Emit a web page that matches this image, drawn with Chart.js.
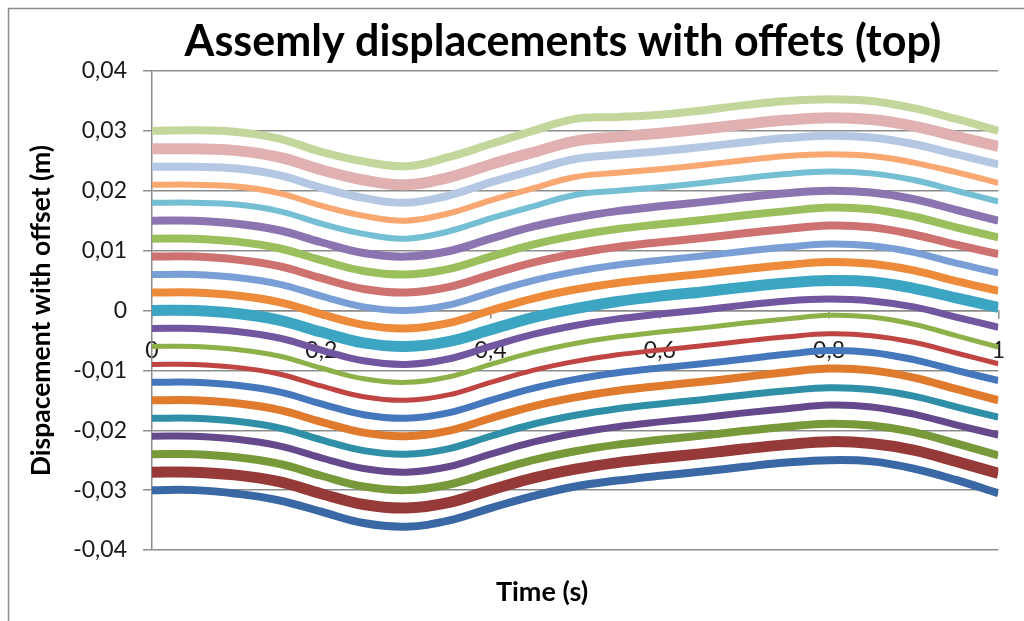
<!DOCTYPE html>
<html>
<head>
<meta charset="utf-8">
<script src="https://cdn.jsdelivr.net/npm/chart.js@4.4.1/dist/chart.umd.min.js"></script>
<style>
  html, body { margin: 0; padding: 0; background: #fff; }
  #wrap { position: relative; width: 1024px; height: 621px; }
</style>
</head>
<body>
<div id="wrap"><canvas id="chart"></canvas></div>
<script>
// time samples (s)
const times = [0, 0.05, 0.1, 0.15, 0.2, 0.25, 0.3, 0.35, 0.4, 0.45, 0.5,
               0.55, 0.6, 0.65, 0.7, 0.75, 0.8, 0.85, 0.9, 0.95, 1];

// displacement + offset (m), one array per node, bottom to top
const s_m30 = [-0.0300, -0.0300, -0.0306, -0.0317, -0.0336, -0.0355, -0.0361, -0.0351, -0.0330, -0.0310, -0.0294, -0.0284, -0.0276, -0.0269, -0.0261, -0.0254, -0.0250, -0.0252, -0.0264, -0.0283, -0.0305];
const s_m27 = [-0.0270, -0.0270, -0.0275, -0.0286, -0.0306, -0.0324, -0.0330, -0.0321, -0.0300, -0.0280, -0.0265, -0.0254, -0.0246, -0.0239, -0.0231, -0.0224, -0.0219, -0.0222, -0.0233, -0.0252, -0.0272];
const s_m24 = [-0.0240, -0.0240, -0.0245, -0.0256, -0.0276, -0.0294, -0.0300, -0.0291, -0.0270, -0.0250, -0.0235, -0.0224, -0.0216, -0.0209, -0.0201, -0.0194, -0.0189, -0.0192, -0.0203, -0.0222, -0.0242];
const s_m21 = [-0.0210, -0.0210, -0.0215, -0.0226, -0.0246, -0.0264, -0.0270, -0.0261, -0.0240, -0.0220, -0.0205, -0.0194, -0.0186, -0.0179, -0.0171, -0.0164, -0.0158, -0.0161, -0.0173, -0.0191, -0.0208];
const s_m18 = [-0.0180, -0.0180, -0.0185, -0.0196, -0.0216, -0.0234, -0.0240, -0.0231, -0.0210, -0.0190, -0.0175, -0.0164, -0.0156, -0.0149, -0.0141, -0.0134, -0.0129, -0.0132, -0.0143, -0.0161, -0.0178];
const s_m15 = [-0.0150, -0.0150, -0.0155, -0.0166, -0.0186, -0.0204, -0.0210, -0.0201, -0.0180, -0.0160, -0.0145, -0.0134, -0.0126, -0.0119, -0.0111, -0.0103, -0.0097, -0.0100, -0.0112, -0.0131, -0.0150];
const s_m12 = [-0.0120, -0.0120, -0.0125, -0.0136, -0.0156, -0.0174, -0.0180, -0.0171, -0.0150, -0.0130, -0.0115, -0.0104, -0.0096, -0.0089, -0.0081, -0.0073, -0.0067, -0.0070, -0.0082, -0.0100, -0.0117];
const s_m09 = [-0.0090, -0.0090, -0.0095, -0.0106, -0.0126, -0.0144, -0.0150, -0.0141, -0.0120, -0.0100, -0.0085, -0.0074, -0.0066, -0.0059, -0.0051, -0.0044, -0.0039, -0.0042, -0.0053, -0.0071, -0.0089];
const s_m06 = [-0.0060, -0.0060, -0.0065, -0.0076, -0.0096, -0.0114, -0.0120, -0.0111, -0.0090, -0.0070, -0.0055, -0.0044, -0.0036, -0.0029, -0.0021, -0.0014, -0.0008, -0.0011, -0.0023, -0.0042, -0.0061];
const s_m03 = [-0.0030, -0.0030, -0.0035, -0.0046, -0.0066, -0.0084, -0.0090, -0.0081, -0.0060, -0.0040, -0.0025, -0.0014, -0.0006, 0.0001, 0.0009, 0.0016, 0.0019, 0.0016, 0.0006, -0.0011, -0.0028];
const s_000 = [0.0000, 0.0000, -0.0005, -0.0016, -0.0036, -0.0054, -0.0060, -0.0052, -0.0032, -0.0012, 0.0003, 0.0015, 0.0024, 0.0031, 0.0039, 0.0046, 0.0050, 0.0048, 0.0037, 0.0021, 0.0005];
const s_p03 = [0.0030, 0.0030, 0.0025, 0.0014, -0.0006, -0.0024, -0.0030, -0.0021, 0.0000, 0.0020, 0.0035, 0.0046, 0.0054, 0.0061, 0.0069, 0.0076, 0.0081, 0.0078, 0.0067, 0.0049, 0.0033];
const s_p06 = [0.0060, 0.0060, 0.0055, 0.0044, 0.0024, 0.0006, 0.0000, 0.0009, 0.0030, 0.0050, 0.0065, 0.0076, 0.0084, 0.0091, 0.0099, 0.0106, 0.0111, 0.0108, 0.0097, 0.0079, 0.0063];
const s_p09 = [0.0090, 0.0090, 0.0085, 0.0074, 0.0054, 0.0036, 0.0030, 0.0039, 0.0060, 0.0080, 0.0095, 0.0106, 0.0114, 0.0121, 0.0129, 0.0136, 0.0142, 0.0139, 0.0127, 0.0110, 0.0094];
const s_p12 = [0.0120, 0.0120, 0.0115, 0.0104, 0.0084, 0.0066, 0.0060, 0.0069, 0.0090, 0.0110, 0.0125, 0.0136, 0.0144, 0.0151, 0.0159, 0.0166, 0.0172, 0.0169, 0.0157, 0.0139, 0.0122];
const s_p15 = [0.0150, 0.0150, 0.0145, 0.0134, 0.0114, 0.0096, 0.0090, 0.0099, 0.0120, 0.0140, 0.0155, 0.0166, 0.0174, 0.0181, 0.0189, 0.0196, 0.0200, 0.0197, 0.0186, 0.0168, 0.0150];
const s_p18 = [0.0180, 0.0180, 0.0177, 0.0166, 0.0145, 0.0128, 0.0120, 0.0132, 0.0154, 0.0174, 0.0193, 0.0200, 0.0206, 0.0213, 0.0221, 0.0228, 0.0232, 0.0229, 0.0218, 0.0200, 0.0182];
const s_p21 = [0.0210, 0.0210, 0.0207, 0.0196, 0.0175, 0.0158, 0.0150, 0.0162, 0.0184, 0.0204, 0.0223, 0.0230, 0.0236, 0.0243, 0.0251, 0.0258, 0.0261, 0.0258, 0.0247, 0.0231, 0.0213];
const s_p24 = [0.0240, 0.0240, 0.0237, 0.0226, 0.0205, 0.0188, 0.0180, 0.0192, 0.0214, 0.0234, 0.0253, 0.0260, 0.0266, 0.0273, 0.0281, 0.0288, 0.0292, 0.0289, 0.0278, 0.0261, 0.0244];
const s_p27 = [0.0270, 0.0270, 0.0267, 0.0256, 0.0235, 0.0218, 0.0210, 0.0222, 0.0244, 0.0264, 0.0283, 0.0290, 0.0296, 0.0303, 0.0311, 0.0318, 0.0322, 0.0319, 0.0308, 0.0291, 0.0274];
const s_p30 = [0.0300, 0.0301, 0.0298, 0.0287, 0.0265, 0.0249, 0.0241, 0.0256, 0.0278, 0.0300, 0.0320, 0.0323, 0.0327, 0.0334, 0.0343, 0.0350, 0.0353, 0.0350, 0.0338, 0.0320, 0.0300];

const seriesValues = [s_m30, s_m27, s_m24, s_m21, s_m18, s_m15, s_m12, s_m09, s_m06, s_m03,
                      s_000, s_p03, s_p06, s_p09, s_p12, s_p15, s_p18, s_p21, s_p24, s_p27, s_p30];

const yTicks = [-0.04, -0.03, -0.02, -0.01, 0, 0.01, 0.02, 0.03, 0.04];
const yTickLabels = ['-0,04', '-0,03', '-0,02', '-0,01', '0', '0,01', '0,02', '0,03', '0,04'];
const xTicks = [0, 0.2, 0.4, 0.6, 0.8, 1];
const xTickLabels = ['0', '0,2', '0,4', '0,6', '0,8', '1'];

// look of each line, same order as seriesValues
const seriesColors = ['#3A68A5', '#953A38', '#78993A', '#65498C', '#2F8FA6', '#E07B2E', '#4577BC',
                      '#BF4442', '#8DB048', '#7356A0', '#3CA5C1', '#ED8B3A', '#7A9FD6', '#CD7270',
                      '#9CBF5E', '#8C74B0', '#74BFD3', '#F8A870', '#B4C8E4', '#E0B1B0', '#C3D69B'];
const seriesWidths = [8, 11, 8, 7, 7, 8, 7, 5, 5, 7, 11, 8, 7, 8, 8, 8, 6, 6, 8, 11, 8];

const GRID = '#8c8c8c';
const FONT = 'Lato';

const datasets = seriesValues.map(function (vals, i) {
    return {
        label: 'Node ' + (i + 1),
        data: times.map(function (t, k) { return { x: t, y: vals[k] }; }),
        borderColor: seriesColors[i],
        backgroundColor: seriesColors[i],
        borderWidth: seriesWidths[i],
        pointRadius: 0,
        tension: 0.4,
        fill: false,
    };
});

const textPlugin = {
    id: 'texts',
    beforeDraw: function (chart) {
        const ctx = chart.ctx;
        ctx.save();
        ctx.strokeStyle = GRID;
        ctx.lineWidth = 1.5;
        ctx.strokeRect(8.5, 8.5, 1100, 1100);
        ctx.restore();
    },
    afterDraw: function (chart) {
        const ctx = chart.ctx;
        ctx.save();
        ctx.fillStyle = '#000';
        ctx.textAlign = 'center';
        ctx.textBaseline = 'middle';
        ctx.font = 'bold 43px ' + FONT;
        ctx.fillText('Assemly displacements with offets (top)', 563, 42);
        ctx.font = 'bold 27px ' + FONT;
        ctx.fillText('Time (s)', 542, 592);
        ctx.restore();
    },
};

new Chart(document.getElementById('chart'), {
    type: 'line',
    data: { datasets: datasets },
    plugins: [textPlugin],
    options: {
        responsive: true,
        maintainAspectRatio: false,
        animation: false,
        layout: { padding: { left: 10, right: 21, top: 71, bottom: 71 } },
        plugins: {
            legend: { display: false },
            tooltip: { enabled: false },
        },
        scales: {
            x: {
                type: 'linear',
                min: 0,
                max: 1,
                position: { y: 0 },
                z: 1,
                afterBuildTicks: function (s) { s.ticks = xTicks.map(function (v) { return { value: v }; }); },
                ticks: {
                    autoSkip: false,
                    maxRotation: 0,
                    padding: 19,
                    color: '#1a1a1a',
                    font: { family: FONT, size: 23 },
                    callback: function (v, i) { return xTickLabels[i]; },
                },
                grid: { drawOnChartArea: false, tickLength: 7, color: GRID, lineWidth: 1.5 },
                border: { color: GRID, width: 1.5 },
            },
            y: {
                min: -0.04,
                max: 0.04,
                afterBuildTicks: function (s) { s.ticks = yTicks.map(function (v) { return { value: v }; }); },
                afterFit: function (s) { s.width = 142; },
                ticks: {
                    padding: 16,
                    color: '#1a1a1a',
                    font: { family: FONT, size: 23 },
                    callback: function (v, i) { return yTickLabels[i]; },
                },
                grid: { color: GRID, lineWidth: 1.5, tickLength: 9 },
                border: { color: GRID, width: 1.5 },
                title: {
                    display: true,
                    text: 'Dispacement with offset (m)',
                    color: '#000',
                    font: { family: FONT, size: 26.5, weight: 'bold' },
                    padding: { top: 16, bottom: 0 },
                },
            },
        },
    },
});
</script>
</body>
</html>
